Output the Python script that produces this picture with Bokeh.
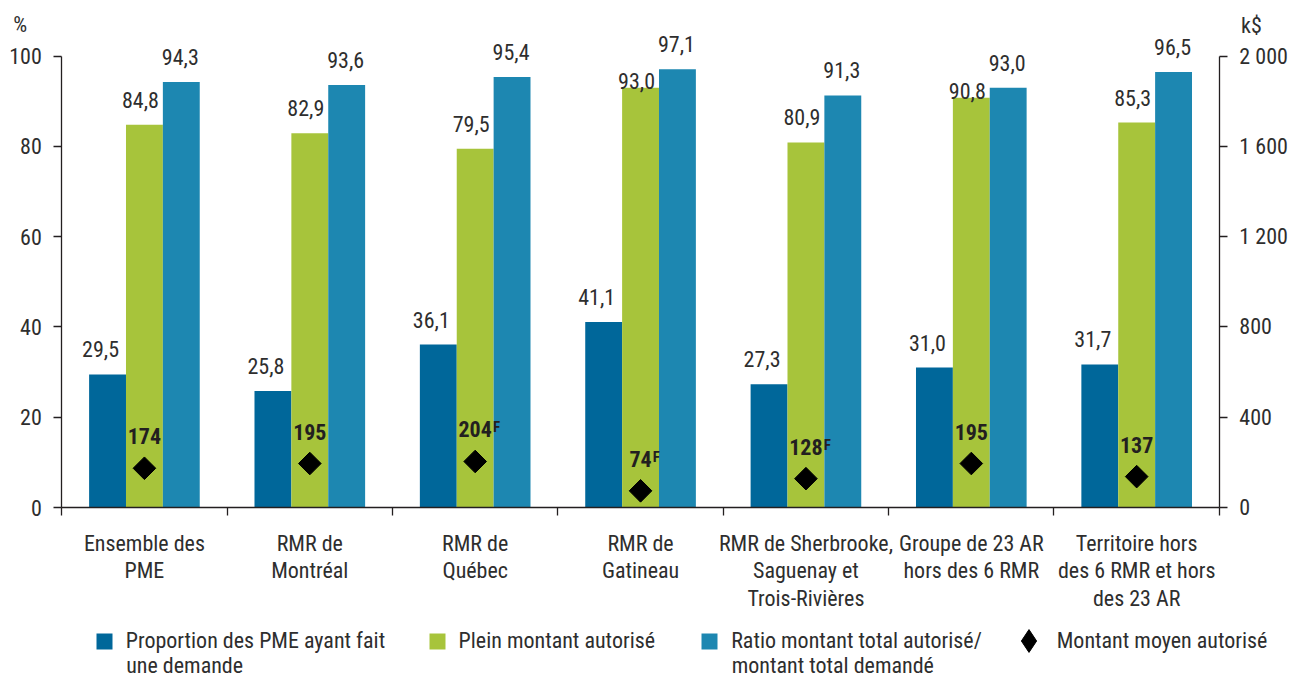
import math
from bokeh.plotting import figure
from bokeh.models import (ColumnDataSource, Range1d, FixedTicker,
                          LabelSet, Label, Legend, LegendItem, LinearAxis)
from bokeh.core.properties import value
from bokeh.transform import dodge
from bokeh.embed import file_html
from bokeh.resources import INLINE

# ---------------- data ----------------
categories = [
    "Ensemble des\nPME",
    "RMR de\nMontréal",
    "RMR de\nQuébec",
    "RMR de\nGatineau",
    "RMR de Sherbrooke,\nSaguenay et\nTrois-Rivières",
    "Groupe de 23 AR\nhors des 6 RMR",
    "Territoire hors\ndes 6 RMR et hors\ndes 23 AR",
]
proportion = [29.5, 25.8, 36.1, 41.1, 27.3, 31.0, 31.7]
plein = [84.8, 82.9, 79.5, 93.0, 80.9, 90.8, 85.3]
ratio = [94.3, 93.6, 95.4, 97.1, 91.3, 93.0, 96.5]
montant = [174, 195, 204, 74, 128, 195, 137]
flags = ["", "", "F", "F", "F", "", ""]

left_ticks = [0, 20, 40, 60, 80, 100]
right_ticks = [0, 400, 800, 1200, 1600, 2000]

series_names = ["Proportion des PME ayant fait\nune demande",
                "Plein montant autorisé",
                "Ratio montant total autorisé/\nmontant total demandé",
                "Montant moyen autorisé"]

# ---------------- style / layout ----------------
FONT = "Roboto Condensed"
FS = "22px"
TXT = "#2e2e2e"
AX = "#231f20"
C_DARK = "#00679A"
C_GREEN = "#A7C43B"
C_BLUE = "#1D87B1"
BW = 0.223
N = len(categories)
K = 20.0                      # k$ per percent (2000 k$ <-> 100 %)

W, H = 1289, 678
FX, FY = W / 1305.0, H / 694.0   # reference-pixel -> canvas-pixel


def rx(px):
    return px * FX


def ry(py):
    return py * FY


X0, X1 = rx(62), rx(1234)     # left / right axis
Y100, Y0 = ry(57), ry(519)    # 100 % and 0 %
PXX = (X1 - X0) / N
PXY = (Y0 - Y100) / 100.0

x_start = -X0 / PXX
x_end = N + (W - X1) / PXX
y_end = 100 + Y100 / PXY
y_start = -(H - Y0) / PXY


def sx(px):   # canvas pixel x -> data x
    return x_start + px / PXX


def sy(py):   # canvas pixel y -> data y (percent)
    return y_end - py / PXY


def fr(v):
    return f"{v:.1f}".replace(".", ",")


def sp(v):
    return f"{v:,}".replace(",", " ")


xc = [i + 0.5 for i in range(N)]
green_off = [17 if (r - g) > 5 else -1 for g, r in zip(plein, ratio)]

src = ColumnDataSource(dict(
    x=xc,
    proportion=proportion, plein=plein, ratio=ratio, montant=montant,
    prop_txt=[fr(v) for v in proportion],
    plein_txt=[fr(v) for v in plein],
    ratio_txt=[fr(v) for v in ratio],
    mont_txt=[str(v) for v in montant],
    flag=flags,
    flag_off=[len(str(v)) * 5.8 + 0.5 for v in montant],
    green_off=green_off,
))

p = figure(x_range=Range1d(x_start, x_end), y_range=Range1d(y_start, y_end),
           width=W, height=H, output_backend="svg", toolbar_location=None,
           min_border=0, min_border_left=0, min_border_right=0,
           min_border_top=0, min_border_bottom=0, outline_line_color=None,
           background_fill_color="white", border_fill_color="white")
p.grid.visible = False
p.extra_y_ranges = {"k": Range1d(y_start * K, y_end * K)}


def style_axis(ax):
    ax.axis_line_color = AX
    ax.axis_line_width = 1.3
    ax.major_tick_line_color = AX
    ax.major_tick_line_width = 1.3
    ax.minor_tick_line_color = AX
    ax.minor_tick_line_width = 1.3
    ax.major_label_text_font = FONT
    ax.major_label_text_font_size = FS
    ax.major_label_text_color = TXT


ly = p.yaxis[0]
ly.ticker = FixedTicker(ticks=left_ticks)
ly.fixed_location = 0
ly.bounds = (0, 100)
style_axis(ly)
ly.major_tick_out = 8
ly.major_tick_in = 0
ly.minor_tick_out = 0
ly.minor_tick_in = 0
ly.major_label_standoff = 12

ra = LinearAxis(y_range_name="k", ticker=FixedTicker(ticks=right_ticks),
                major_label_overrides={t: sp(t) for t in right_ticks},
                fixed_location=N, bounds=(0, 2000))
style_axis(ra)
ra.major_tick_out = 8
ra.major_tick_in = 0
ra.minor_tick_out = 0
ra.minor_tick_in = 0
ra.major_label_standoff = 12
p.add_layout(ra, "right")

bounds = list(range(N + 1))
xa = p.xaxis[0]
xa.ticker = FixedTicker(ticks=xc, minor_ticks=bounds)
xa.major_label_overrides = {c: lab for c, lab in zip(xc, categories)}
xa.fixed_location = 0
xa.bounds = (0, N)
style_axis(xa)
xa.major_tick_out = 0
xa.major_tick_in = 0
xa.minor_tick_out = 8
xa.minor_tick_in = 0
xa.major_label_standoff = 15
xa.major_label_text_line_height = 1.1

r1 = p.vbar(x=dodge("x", -BW), top="proportion", width=BW, source=src,
            fill_color=C_DARK, line_color=None)
r2 = p.vbar(x="x", top="plein", width=BW, source=src,
            fill_color=C_GREEN, line_color=None)
r3 = p.vbar(x=dodge("x", BW), top="ratio", width=BW, source=src,
            fill_color=C_BLUE, line_color=None)
# diamond-shaped companion (hidden under the rotated squares) used as the legend key
r4 = p.scatter(x="x", y="montant", y_range_name="k", source=src, marker="diamond",
               size=14, fill_color="black", line_color="black")
p.scatter(x="x", y="montant", y_range_name="k", source=src, marker="square",
          size=16, angle=math.pi / 4, fill_color="black", line_color="black")

common = dict(text_font=value(FONT), text_font_size=value(FS), text_color=value(TXT),
              text_align="center", text_baseline="alphabetic", source=src)
p.add_layout(LabelSet(x=dodge("x", -BW), y="proportion", text="prop_txt",
                      x_offset=-7, y_offset=17, **common))
p.add_layout(LabelSet(x="x", y="plein", text="plein_txt",
                      x_offset=-4, y_offset="green_off", **common))
p.add_layout(LabelSet(x=dodge("x", BW), y="ratio", text="ratio_txt",
                      x_offset=-1, y_offset=17, **common))
bold = dict(text_font=value(FONT), text_color=value("#231f20"),
            text_font_style=value("bold"), text_baseline="alphabetic", source=src)
p.add_layout(LabelSet(x="x", y="montant", y_range_name="k", text="mont_txt",
                      y_offset=24, text_font_size=value(FS), text_align="center", **bold))
p.add_layout(LabelSet(x="x", y="montant", y_range_name="k", text="flag",
                      x_offset="flag_off", y_offset=29, text_font_size=value("15px"),
                      text_align="left", **bold))

p.add_layout(Label(x=sx(rx(13)), y=sy(ry(25)), text="%", text_font=FONT,
                   text_font_size=FS, text_color=TXT, text_align="left",
                   text_baseline="middle"))
p.add_layout(Label(x=sx(rx(1256)), y=sy(ry(26)), text="k$", text_font=FONT,
                   text_font_size=FS, text_color=TXT, text_align="left",
                   text_baseline="middle"))

# legend: one Legend per item so each sits where it does in the reference
KEY_Y = 640.0            # centre of the legend keys / first text line (canvas px)
LINE2 = 665.0            # centre of the second text line (canvas px)
leg_specs = [  # renderer, series index, key centre x (ref px), box w, box h, standoff
    (r1, 0, 105, 20, 20, 12),
    (r2, 1, 442, 20, 20, 12),
    (r3, 2, 718, 20, 20, 12),
    (r4, 3, 1041, 57, 57, -8),
]
for rend, idx, kx, gw, gh, so in leg_specs:
    lines = series_names[idx].split("\n")
    item_h = max(gh, 26)
    left = rx(kx) - gw / 2
    lg = Legend(items=[LegendItem(label=lines[0], renderers=[rend])],
                location=(left, H - (KEY_Y + item_h / 2)),
                glyph_width=gw, glyph_height=gh, label_standoff=so,
                padding=0, margin=0, border_line_alpha=0, background_fill_alpha=0,
                label_text_font=FONT, label_text_font_size=FS, label_text_color=TXT)
    p.add_layout(lg, "center")
    if len(lines) > 1:
        p.add_layout(Label(x=sx(left + gw + so), y=sy(LINE2), text=lines[1],
                           text_font=FONT, text_font_size=FS, text_color=TXT,
                           text_align="left", text_baseline="middle"))

open("out.html", "w").write(file_html(p, INLINE))
